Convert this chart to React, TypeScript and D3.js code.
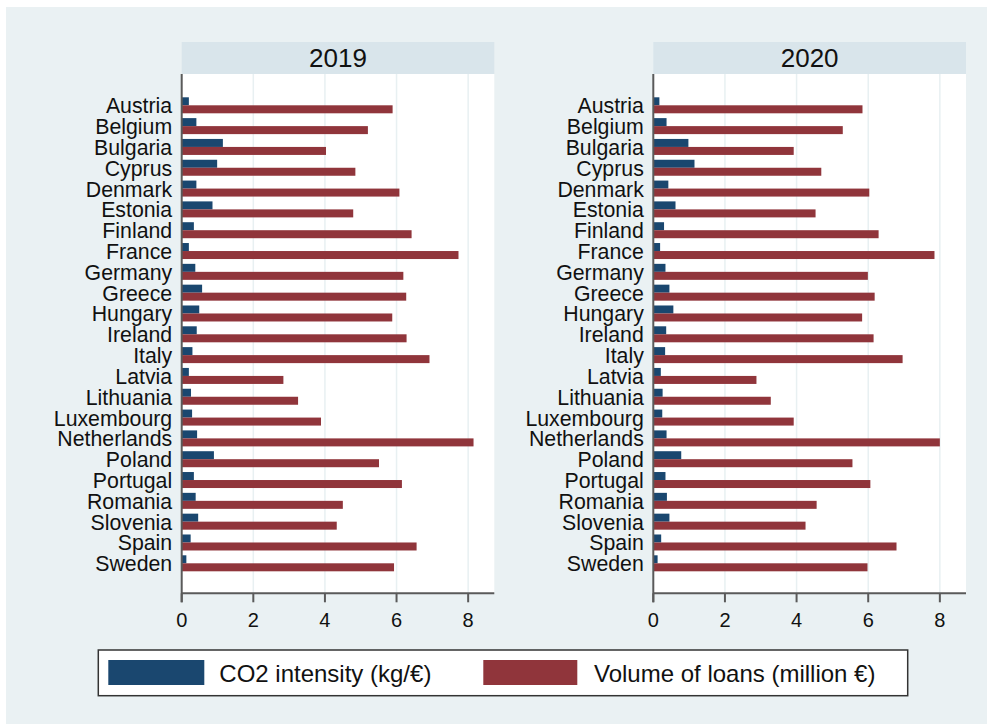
import React from "react";
import * as d3 from "d3";

const countries = ["Austria","Belgium","Bulgaria","Cyprus","Denmark","Estonia","Finland","France","Germany","Greece","Hungary","Ireland","Italy","Latvia","Lithuania","Luxembourg","Netherlands","Poland","Portugal","Romania","Slovenia","Spain","Sweden"];

const co2_2019 = [0.20,0.41,1.15,0.99,0.41,0.86,0.34,0.20,0.38,0.57,0.49,0.42,0.30,0.20,0.26,0.29,0.43,0.90,0.34,0.39,0.46,0.25,0.13];
const loans_2019 = [5.89,5.20,4.03,4.85,6.08,4.79,6.42,7.73,6.19,6.27,5.88,6.28,6.92,2.84,3.25,3.89,8.15,5.51,6.15,4.50,4.33,6.56,5.93];
const co2_2020 = [0.17,0.37,0.98,1.15,0.42,0.62,0.30,0.19,0.34,0.45,0.56,0.36,0.33,0.21,0.26,0.25,0.37,0.78,0.34,0.38,0.45,0.22,0.12];
const loans_2020 = [5.84,5.29,3.92,4.69,6.03,4.53,6.29,7.85,5.99,6.18,5.83,6.15,6.96,2.88,3.28,3.92,8.00,5.56,6.06,4.56,4.25,6.79,5.98];

const years = ["2019","2020"];
const xTicks = [0,2,4,6,8];
const seriesNames = ["CO2 intensity (kg/€)","Volume of loans (million €)"];

const NAVY = "#1a476f";
const MAROON = "#90353b";
const BG = "#eaf1f3";
const STRIP = "#d9e5eb";
const AXIS = "#5a5a5a";
const FONT = "'Liberation Sans', Arial, sans-serif";

function Panel({ x0, x1, year, co2, loans }: { x0: number; x1: number; year: string; co2: number[]; loans: number[] }) {
  const top = 74;
  const bottom = 593.3;
  const x = d3.scaleLinear().domain([0, 8.73]).range([x0, x1]);
  const step = (563.3 - 105.3) / 22;
  const y = d3.scaleBand<string>().domain(countries).range([105.3 - step / 2, 563.3 + step / 2]).padding(0);
  const bh = 8;
  return (
    <g>
      <rect x={x0} y={42} width={x1 - x0} height={top - 42} fill={STRIP} />
      <text x={(x0 + x1) / 2} y={58} textAnchor="middle" dominantBaseline="central" fontSize={26} fontFamily={FONT} fill="#111">{year}</text>
      <rect x={x0} y={top} width={x1 - x0} height={bottom - top} fill="#fff" />
      {xTicks.slice(1).map(t => (
        <line key={t} x1={x(t)} x2={x(t)} y1={top} y2={bottom} stroke="#e8f0f2" strokeWidth={1.5} />
      ))}
      {countries.map((c, i) => {
        const cy = (y(c) as number) + y.bandwidth() / 2;
        return (
          <g key={c}>
            <rect x={x(0)} y={cy - bh} width={x(co2[i]) - x(0)} height={bh} fill={NAVY} />
            <rect x={x(0)} y={cy} width={x(loans[i]) - x(0)} height={bh} fill={MAROON} />
            <text x={x0 - 9.5} y={cy + 1} textAnchor="end" dominantBaseline="central" fontSize={21.3} fontFamily={FONT} fill="#111">{c}</text>
          </g>
        );
      })}
      <line x1={x0} x2={x0} y1={top} y2={bottom + 9} stroke={AXIS} strokeWidth={2} />
      <line x1={x0} x2={x1} y1={bottom} y2={bottom} stroke={AXIS} strokeWidth={2} />
      {xTicks.map(t => (
        <g key={t}>
          <line x1={x(t)} x2={x(t)} y1={bottom} y2={bottom + 9} stroke={AXIS} strokeWidth={2} />
          <text x={x(t)} y={620} textAnchor="middle" dominantBaseline="central" fontSize={20} fontFamily={FONT} fill="#111">{t}</text>
        </g>
      ))}
    </g>
  );
}

export default function App() {
  return (
    <svg width={987} height={724} style={{ position: "absolute", left: 0, top: 0 }}>
      <rect x={0} y={0} width={987} height={724} fill="#fff" />
      <rect x={6} y={7} width={981} height={717} fill={BG} />
      <Panel x0={181.7} x1={494.3} year={years[0]} co2={co2_2019} loans={loans_2019} />
      <Panel x0={653.3} x1={966} year={years[1]} co2={co2_2020} loans={loans_2020} />
      <rect x={98.3} y={650} width={809.4} height={45.7} fill="#fff" stroke="#333" strokeWidth={1.5} />
      <rect x={108.3} y={660} width={96} height={25} fill={NAVY} />
      <text x={219.3} y={673} dominantBaseline="central" fontSize={24} fontFamily={FONT} fill="#111">{seriesNames[0]}</text>
      <rect x={483.3} y={660} width={94} height={25} fill={MAROON} />
      <text x={594} y={673} dominantBaseline="central" fontSize={24} fontFamily={FONT} fill="#111">{seriesNames[1]}</text>
    </svg>
  );
}
